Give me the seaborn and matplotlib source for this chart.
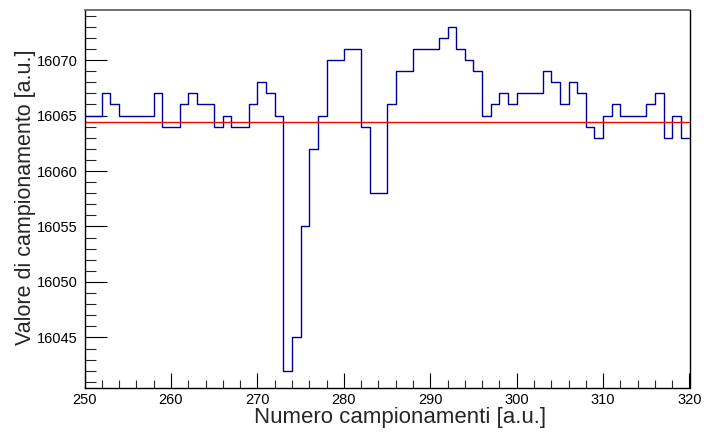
import numpy as np
import pandas as pd
import seaborn as sns
import matplotlib
matplotlib.use("Agg")
import matplotlib.pyplot as plt
from matplotlib.ticker import MultipleLocator

# Sample index range and recorded values (one value per sample bin)
first_sample = 250
last_sample = 320
sample_values = [
    16065, 16065, 16067, 16066, 16065, 16065, 16065, 16065, 16067, 16064,
    16064, 16066, 16067, 16066, 16066, 16064, 16065, 16064, 16064, 16066,
    16068, 16067, 16065, 16042, 16045, 16055, 16062, 16065, 16070, 16070,
    16071, 16071, 16064, 16058, 16058, 16066, 16069, 16069, 16071, 16071,
    16071, 16072, 16073, 16071, 16070, 16069, 16065, 16066, 16067, 16066,
    16067, 16067, 16067, 16069, 16068, 16066, 16068, 16067, 16064, 16063,
    16065, 16066, 16065, 16065, 16065, 16066, 16067, 16063, 16065, 16063,
]
# Reference level drawn as a horizontal line
baseline_level = 16064.45

xlabel_text = "Numero campionamenti [a.u.]"
ylabel_text = "Valore di campionamento [a.u.]"

sns.set_theme(style="white")
plt.rcParams["font.family"] = ["Liberation Sans", "DejaVu Sans"]

edges = np.arange(first_sample, last_sample + 1)
step_df = pd.DataFrame({
    "sample": edges,
    "value": sample_values + [sample_values[-1]],
})

fig = plt.figure(figsize=(7.04, 4.33), dpi=100)
ax = fig.add_axes([84.5 / 704, 1 - 388 / 433, (689.5 - 84.5) / 704, (388 - 9.5) / 433])

sns.lineplot(data=step_df, x="sample", y="value", drawstyle="steps-post",
             estimator=None, color="#000099", linewidth=1.0, ax=ax)
ax.axhline(baseline_level, color="#ff0000", linewidth=1.0)

ymin, ymax = min(sample_values), max(sample_values)
pad = 0.05 * (ymax - ymin)
ax.set_xlim(first_sample, last_sample)
ax.set_ylim(ymin - pad, ymax + pad)

ax.xaxis.set_major_locator(MultipleLocator(10))
ax.xaxis.set_minor_locator(MultipleLocator(2))
ax.yaxis.set_major_locator(MultipleLocator(5))
ax.yaxis.set_minor_locator(MultipleLocator(1))
ax.tick_params(axis="x", which="major", direction="in", length=11, width=0.8,
               bottom=True, top=False, labelsize=10.5, pad=3.5, colors="black")
ax.tick_params(axis="x", which="minor", direction="in", length=5.5, width=0.8,
               bottom=True, top=False)
ax.tick_params(axis="y", which="major", direction="in", length=16, width=0.8,
               left=True, right=False, labelsize=10.5, pad=5, colors="black")
ax.tick_params(axis="y", which="minor", direction="in", length=8, width=0.8,
               left=True, right=False)

for side in ["left", "bottom", "right"]:
    ax.spines[side].set_color("black")
    ax.spines[side].set_linewidth(1.0)
ax.spines["top"].set_color("#666666")
ax.spines["top"].set_linewidth(1.3)

ax.set_xlabel(xlabel_text, fontsize=16)
ax.set_ylabel(ylabel_text, fontsize=15.5)
ax.xaxis.set_label_coords(0.5215, -0.051, transform=ax.transAxes)
ax.yaxis.set_label_coords(-0.08, 0.505, transform=ax.transAxes)
ax.grid(False)

fig.savefig("out.png", dpi=100)
